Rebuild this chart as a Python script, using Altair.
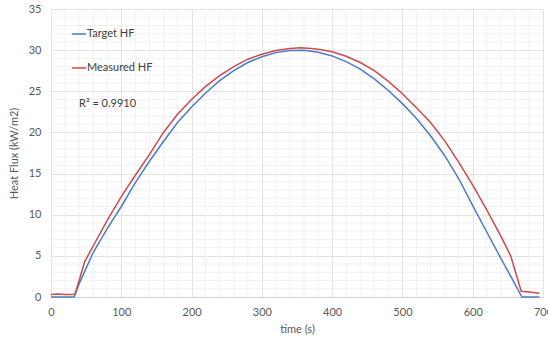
import altair as alt
import pandas as pd

# ---- data ----
series_names = ["Target HF", "Measured HF"]
series_colors = ["#4A7CC8", "#C94B4B"]

target_time = [0, 10, 20, 33, 40, 60, 80, 100, 120, 140, 160, 180, 200, 220, 240,
               260, 280, 300, 320, 340, 360, 380, 400, 420, 440, 460, 480, 500,
               520, 540, 560, 580, 600, 620, 640, 660, 670, 680, 695]
target_flux = [0, 0, 0, 0, 1.6, 5.4, 8.3, 11.0, 13.9, 16.5, 18.9, 21.2, 23.1, 24.8, 26.3,
               27.5, 28.5, 29.2, 29.7, 29.95, 29.98, 29.75, 29.3, 28.6, 27.7, 26.5, 25.1, 23.5,
               21.7, 19.6, 17.2, 14.4, 11.1, 7.9, 4.7, 1.6, 0, 0, 0]

measured_time = [0, 10, 20, 30, 34, 40, 48, 60, 80, 100, 120, 140, 160, 180, 200,
                 220, 240, 260, 280, 300, 320, 340, 355, 370, 385, 400, 420, 440,
                 460, 480, 500, 520, 540, 560, 580, 600, 620, 640, 654, 669, 680, 695]
measured_flux = [0.3, 0.35, 0.3, 0.3, 0.35, 2.0, 4.3, 6.2, 9.3, 12.2, 14.8, 17.3, 20.0, 22.2, 24.0,
                 25.6, 26.9, 28.0, 28.9, 29.5, 29.95, 30.2, 30.3, 30.2, 30.05, 29.8, 29.25, 28.5,
                 27.5, 26.2, 24.7, 23.0, 21.2, 19.0, 16.4, 13.6, 10.6, 7.4, 5.0, 0.7, 0.6, 0.45]

x_ticks = [0, 100, 200, 300, 400, 500, 600, 700]
y_ticks = [0, 5, 10, 15, 20, 25, 30, 35]
minor_x = [20, 40, 60, 80, 120, 140, 160, 180, 220, 240, 260, 280, 320, 340, 360, 380,
           420, 440, 460, 480, 520, 540, 560, 580, 620, 640, 660, 680]
minor_y = [1, 2, 3, 4, 6, 7, 8, 9, 11, 12, 13, 14, 16, 17, 18, 19, 21, 22, 23, 24,
           26, 27, 28, 29, 31, 32, 33, 34]
r2_label = ["R\u00b2 = 0.9910"]

# ---- tables ----
df = pd.concat([
    pd.DataFrame({"time": target_time, "flux": target_flux, "series": series_names[0]}),
    pd.DataFrame({"time": measured_time, "flux": measured_flux, "series": series_names[1]}),
], ignore_index=True)

xscale = alt.Scale(domain=[0, 700], nice=False)
yscale = alt.Scale(domain=[0, 35], nice=False)
x_axis = alt.Axis(values=x_ticks, grid=True, ticks=False, domain=True,
                  domainColor="#d0d0d0", labelPadding=9, titlePadding=6,
                  labelFlush=False)
y_axis = alt.Axis(values=y_ticks, grid=True, ticks=False, domain=False,
                  labelPadding=10, titlePadding=9, labelFlush=False)
X = alt.X("time:Q", scale=xscale, title="time (s)", axis=x_axis)
Y = alt.Y("flux:Q", scale=yscale, title="Heat Flux (kW/m2)", axis=y_axis)

minor_v = alt.Chart(pd.DataFrame({"time": minor_x})).mark_rule(
    color="#f1f1f1", strokeWidth=1
).encode(x=X)

minor_h = alt.Chart(pd.DataFrame({"flux": minor_y})).mark_rule(
    color="#f1f1f1", strokeWidth=1
).encode(y=Y)

lines = alt.Chart(df).mark_line(strokeWidth=1.5).encode(
    x=X,
    y=Y,
    color=alt.Color("series:N",
                    scale=alt.Scale(domain=series_names, range=series_colors),
                    sort=series_names,
                    legend=alt.Legend(orient="none", legendX=20, legendY=17, title=None,
                                      symbolType="stroke", symbolSize=200,
                                      symbolStrokeWidth=1.5, rowPadding=21,
                                      labelFontSize=11, labelColor="#404040",
                                      labelOffset=0)),
    order=alt.Order("time:Q"),
)

r2 = alt.Chart(pd.DataFrame({"label": r2_label})).mark_text(
    align="left", baseline="middle", fontSize=11, color="#404040"
).encode(x=alt.value(28), y=alt.value(95), text="label:N")

chart = alt.layer(minor_v, minor_h, lines, r2).properties(
    width=492, height=288,
    autosize=alt.AutoSizeParams(type="none"),
    padding={"left": 51, "top": 9, "right": 5, "bottom": 42},
).configure(font="Lato").configure_view(stroke="transparent").configure_axis(
    gridColor="#e2e2e2", labelColor="#595959", labelFontSize=11,
    titleColor="#595959", titleFontSize=11, titleFontWeight="normal",
)

chart.save("out.html", embed_options={"renderer": "svg", "actions": False})
